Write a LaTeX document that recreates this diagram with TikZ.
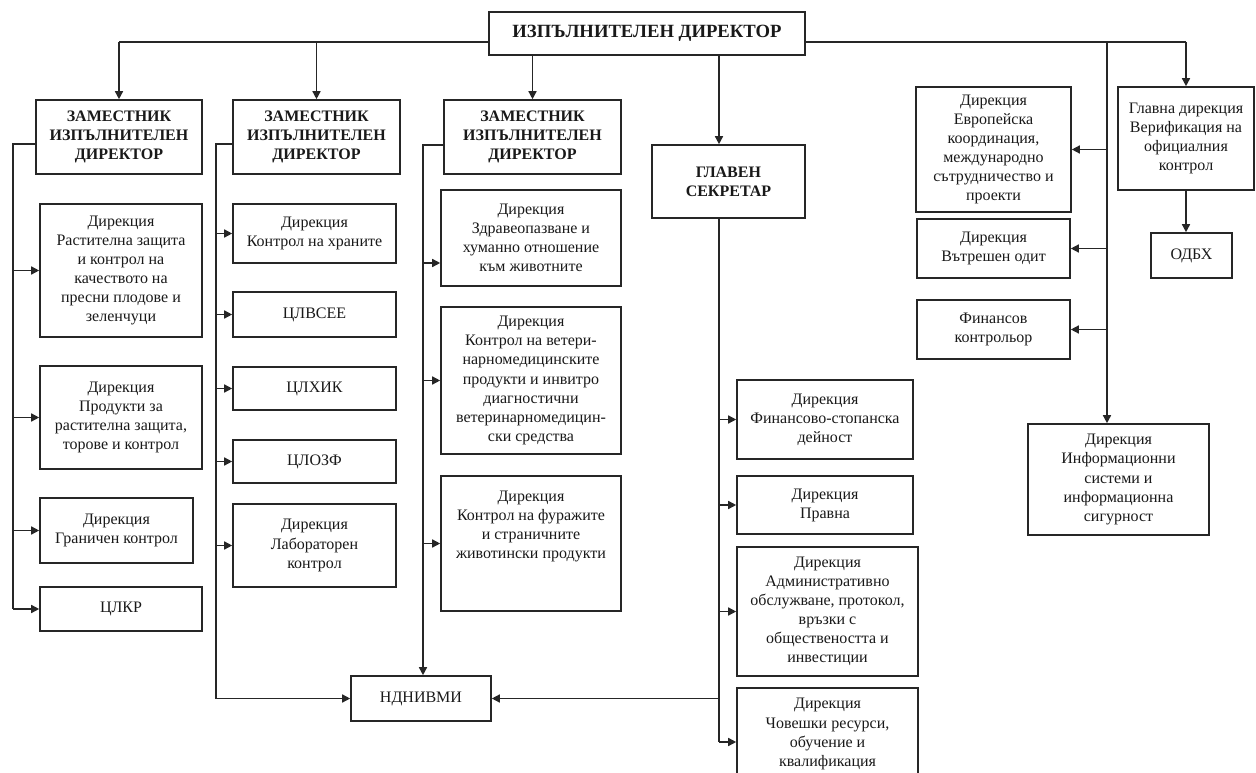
\documentclass[tikz,border=0pt]{standalone}
\usepackage{fontspec}
\setmainfont{Liberation Serif}
\usetikzlibrary{arrows.meta,calc}

\tikzset{
  unitbox/.style={draw=black!85, line width=1.2pt, fill=white, align=center,
    inner sep=1pt, text=black!90, font=\fontsize{12}{14.3}\selectfont},
  head/.style={font=\bfseries\fontsize{12}{14.3}\selectfont},
  chief/.style={font=\bfseries\fontsize{14}{16}\selectfont},
  link/.style={draw=black!85, line width=1.1pt},
  arr/.style={link, -{Triangle[length=6pt,width=6pt]}}
}

% [style]{name}{left}{top}{right}{bottom}{text}, all in pixel units
\newcommand\orgbox[7][]{%
  \pgfmathsetmacro\bw{(#5-#3)*0.75}%
  \pgfmathsetmacro\bh{(#6-#4)*0.75}%
  \node[unitbox,#1,minimum width=\bw pt,minimum height=\bh pt]
    (#2) at ({(#3+#5)/2},{(#4+#6)/2}) {#7};}

\begin{document}
\begin{tikzpicture}[x=0.75pt,y=-0.75pt]
\useasboundingbox (0,0) rectangle (1256,773);
\clip (0,0) rectangle (1256,773);
\fill[white] (0,0) rectangle (1256,773);

% top level
\orgbox[chief]{ceo}{489}{12}{805}{55}{ИЗПЪЛНИТЕЛЕН ДИРЕКТОР}
\orgbox[head]{d1}{36}{100}{202}{174}{ЗАМЕСТНИК\\ИЗПЪЛНИТЕЛЕН\\ДИРЕКТОР}
\orgbox[head]{d2}{233}{100}{400}{174}{ЗАМЕСТНИК\\ИЗПЪЛНИТЕЛЕН\\ДИРЕКТОР}
\orgbox[head]{d3}{444}{100}{621}{174}{ЗАМЕСТНИК\\ИЗПЪЛНИТЕЛЕН\\ДИРЕКТОР}
\orgbox[head]{sec}{652}{145}{805}{218}{ГЛАВЕН\\СЕКРЕТАР}

% first deputy
\orgbox{p1}{40}{204}{202}{337}{Дирекция\\Растителна защита\\и контрол на\\качеството на\\пресни плодове и\\зеленчуци}
\orgbox{p2}{40}{366}{202}{469}{Дирекция\\Продукти за\\растителна защита,\\торове и контрол}
\orgbox{p3}{40}{498}{193}{563}{Дирекция\\Граничен контрол}
\orgbox{p4}{40}{587}{202}{631}{ЦЛКР}

% second deputy
\orgbox{l1}{233}{204}{396}{263}{Дирекция\\Контрол на храните}
\orgbox{l2}{233}{292}{396}{337}{ЦЛВСЕЕ}
\orgbox{l3}{233}{367}{396}{410}{ЦЛХИК}
\orgbox{l4}{233}{440}{396}{483}{ЦЛОЗФ}
\orgbox{l5}{233}{504}{396}{587}{Дирекция\\Лабораторен\\контрол}

% third deputy
\orgbox{h1}{441}{190}{621}{286}{Дирекция\\Здравеопазване и\\хуманно отношение\\към животните}
\orgbox{h2}{441}{307}{621}{454}{Дирекция\\Контрол на ветери-\\нарномедицинските\\продукти и инвитро\\диагностични\\ветеринарномедицин-\\ски средства}
\orgbox{h3}{441}{476}{621}{611}{Дирекция\\Контрол на фуражите\\и страничните\\животински продукти\\\mbox{}\\\mbox{}}

\orgbox{ndn}{351}{676}{491}{721}{НДНИВМИ}

% secretary
\orgbox{s1}{737}{380}{913}{459}{Дирекция\\Финансово-стопанска\\дейност}
\orgbox{s2}{737}{476}{913}{534}{Дирекция\\Правна}
\orgbox{s3}{737}{547}{918}{676}{Дирекция\\Административно\\обслужване, протокол,\\връзки с\\обществеността и\\инвестиции}
\orgbox{s4}{737}{688}{918}{780}{Дирекция\\Човешки ресурси,\\обучение и\\квалификация}

% units directly under the director
\orgbox{r1}{916}{87}{1071}{212}{Дирекция\\Европейска\\координация,\\международно\\сътрудничество и\\проекти}
\orgbox{r2}{917}{219}{1070}{278}{Дирекция\\Вътрешен одит}
\orgbox{r3}{917}{300}{1070}{359}{Финансов\\контрольор}
\orgbox{info}{1028}{424}{1209}{535}{Дирекция\\Информационни\\системи и\\информационна\\сигурност}
\orgbox{vr}{1118}{87}{1254}{190}{Главна дирекция\\Верификация на\\официалния\\контрол}
\orgbox{odbh}{1151}{233}{1232}{278}{ОДБХ}

% main bus
\coordinate (busy) at (0,42);
\draw[link] (ceo.west|-busy) -- (d1.north|-busy);
\draw[arr] (d1.north|-busy) -- (d1.north);
\draw[arr] (d2.north|-busy) -- (d2.north);
\draw[arr] (d3.north|-ceo.south) -- (d3.north);
\coordinate (secx) at (719,0);
\draw[arr] (ceo.south-|secx) -- (sec.north-|secx);
\draw[link] (ceo.east|-busy) -- (vr.north|-busy);
\draw[arr] (vr.north|-busy) -- (vr.north);
\coordinate (vx) at (1107,0);
\draw[arr] (vx|-busy) -- (info.north-|vx);
\foreach \n in {r1,r2,r3} \draw[arr] (vx|-\n.east) -- (\n.east);
\draw[arr] (vr.south) -- (odbh.north-|vr.south);

% first deputy bus
\coordinate (b1) at (13,144);
\draw[link] (d1.west|-b1) -- (b1) -- (b1|-p4.west);
\foreach \n in {p1,p2,p3,p4} \draw[arr] (b1|-\n.west) -- (\n.west);

% second deputy bus
\coordinate (b2) at (216,144);
\draw[arr] (d2.west|-b2) -- (b2) |- (ndn.west);
\foreach \n in {l1,l2,l3,l4,l5} \draw[arr] (b2|-\n.west) -- (\n.west);

% third deputy bus
\coordinate (b3) at (423,145);
\draw[arr] (d3.west|-b3) -- (b3) -- (b3|-ndn.north);
\coordinate (h1a) at ($(h1.west)+(0,25)$);
\draw[arr] (b3|-h1a) -- (h1a);
\foreach \n in {h2,h3} \draw[arr] (b3|-\n.west) -- (\n.west);

% secretary bus
\coordinate (s4a) at ($(s4.west)+(0,8)$);
\draw[link] (sec.south-|secx) -- (secx|-s4a);
\foreach \n in {s1,s2,s3} \draw[arr] (secx|-\n.west) -- (\n.west);
\draw[arr] (secx|-s4a) -- (s4a);
\draw[arr] (secx|-ndn.east) -- (ndn.east);
\end{tikzpicture}
\end{document}
